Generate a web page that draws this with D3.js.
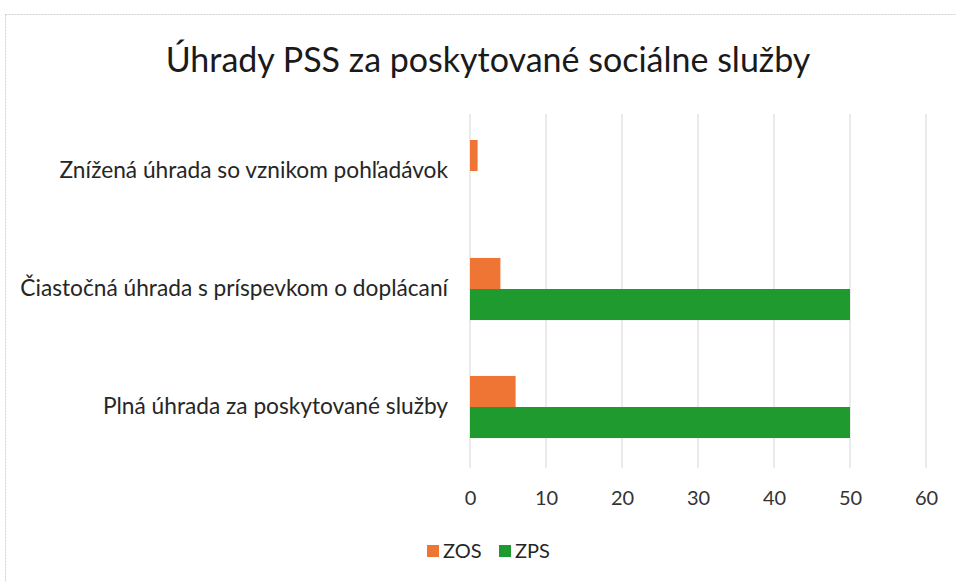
<!DOCTYPE html>
<html><head><meta charset="utf-8">
<script src="https://cdn.jsdelivr.net/npm/d3@7"></script>
<style>body{margin:0;background:#fff;} svg{display:block;font-family:Lato,"Open Sans",sans-serif;}</style>
</head><body>
<svg id="c" width="956" height="582"></svg>
<script>
const categories = ["Znížená úhrada so vznikom pohľadávok", "Čiastočná úhrada s príspevkom o doplácaní", "Plná úhrada za poskytované služby"];
const seriesNames = ["ZOS", "ZPS"];
const zosValues = [1, 4, 6];
const zpsValues = [0, 50, 50];
const xTicks = [0, 10, 20, 30, 40, 50, 60];
const colors = {ZOS: "#ee7533", ZPS: "#1f9a2e"};

const svg = d3.select("#c");
svg.append("rect").attr("x",5.5).attr("y",14.5).attr("width",960).attr("height",580)
  .attr("fill","none").attr("stroke","#d0d0d0").attr("stroke-dasharray","2,1");

const x = d3.scaleLinear().domain([0,60]).range([470,926]);
const y = d3.scaleBand().domain(categories).range([112,466]).paddingInner(0).paddingOuter(0);
const inner = d3.scaleBand().domain(seriesNames).range([0,y.bandwidth()]).paddingInner(0).paddingOuter(0.9);

svg.append("text").attr("x",488).attr("y",72).attr("text-anchor","middle")
  .attr("font-size",34).attr("fill","#1a1a1a").text("Úhrady PSS za poskytované sociálne služby");

// gridlines
svg.append("g").selectAll("line").data(xTicks).join("line")
  .attr("x1",d=>x(d)).attr("x2",d=>x(d)).attr("y1",114).attr("y2",468)
  .attr("stroke","#d6d6d6").attr("stroke-width",1);

const data = categories.map((c,i)=>({cat:c, ZOS:zosValues[i], ZPS:zpsValues[i]}));
const g = svg.append("g");
data.forEach(d=>{
  seriesNames.forEach(s=>{
    if (d[s] <= 0) return;
    g.append("rect").attr("x",x(0)).attr("y",y(d.cat)+inner(s))
      .attr("width",x(d[s])-x(0)).attr("height",inner.bandwidth()).attr("fill",colors[s]);
  });
});

// x axis labels
const xAxis = svg.append("g").attr("transform","translate(0,468)")
  .call(d3.axisBottom(x).tickValues(xTicks).tickSize(0).tickPadding(23));
xAxis.select(".domain").remove();
xAxis.selectAll("text").attr("font-size",20).attr("fill","#333").attr("font-family","Lato,'Open Sans',sans-serif");

// y axis labels
const yAxis = svg.append("g").attr("transform","translate(470,0)")
  .call(d3.axisLeft(y).tickSize(0).tickPadding(22));
yAxis.select(".domain").remove();
yAxis.selectAll("text").attr("font-size",22.7).attr("fill","#262626").attr("font-family","Lato,'Open Sans',sans-serif");

// legend
const legend = svg.append("g");
const lx = [427, 499];
seriesNames.forEach((s,i)=>{
  legend.append("rect").attr("x",lx[i]).attr("y",545).attr("width",12).attr("height",12).attr("fill",colors[s]);
  legend.append("text").attr("x",lx[i]+16).attr("y",558).attr("font-size",20).attr("fill","#262626").text(s);
});
</script>
</body></html>
